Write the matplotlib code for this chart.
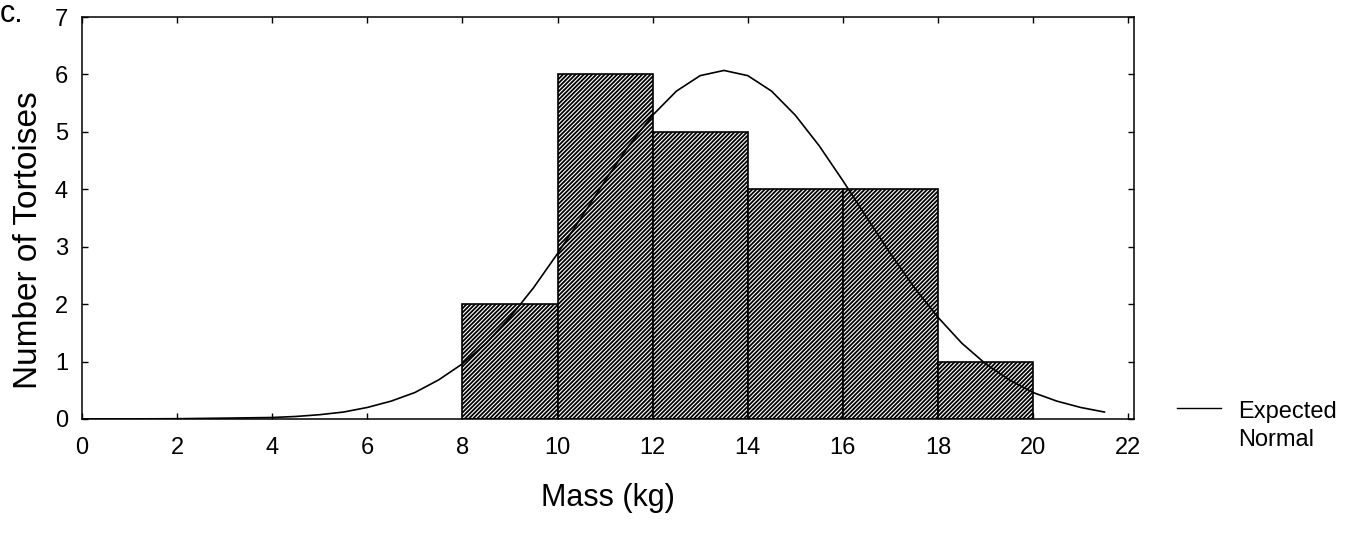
import matplotlib
matplotlib.use('Agg')
import matplotlib.pyplot as plt
from matplotlib.lines import Line2D

plt.rcParams['font.family'] = ['Liberation Sans', 'DejaVu Sans']
plt.rcParams['hatch.linewidth'] = 1.3

# histogram bins (kg) and counts
bin_left = [8, 10, 12, 14, 16, 18]
bin_width = 2
counts = [2, 6, 5, 4, 4, 1]

# expected normal curve
curve_x = [0, 1, 2, 3, 4, 4.5, 5, 5.5, 6, 6.5, 7, 7.5, 8, 8.5, 9, 9.5, 10,
           10.5, 11, 11.5, 12, 12.5, 13, 13.5, 14, 14.5, 15, 15.5, 16, 16.5,
           17, 17.5, 18, 18.5, 19, 19.5, 20, 20.5, 21, 21.5]
curve_y = [0.0001, 0.0009, 0.004, 0.014, 0.025, 0.043, 0.074, 0.12, 0.20,
           0.31, 0.46, 0.68, 0.96, 1.32, 1.77, 2.29, 2.88, 3.51, 4.15, 4.76,
           5.29, 5.71, 5.98, 6.07, 5.98, 5.71, 5.29, 4.76, 4.15, 3.51, 2.88,
           2.29, 1.77, 1.32, 0.96, 0.68, 0.46, 0.31, 0.20, 0.12]

x_ticks = list(range(0, 23, 2))
y_ticks = list(range(0, 8))

fig = plt.figure(figsize=(13.68, 5.33), dpi=100)
ax = fig.add_axes([0.0599, 0.214, 0.769, 0.754])

ax.bar(bin_left, counts, width=bin_width, align='edge', color='white',
       edgecolor='black', linewidth=1.2, hatch='////////', zorder=2)
ax.plot(curve_x, curve_y, color='black', linewidth=1.2, zorder=3)

ax.set_xlim(0, 22.12)
ax.set_ylim(0, 7)
ax.set_xticks(x_ticks)
ax.set_yticks(y_ticks)
ax.tick_params(direction='in', length=4, width=1, labelsize=17,
               top=True, right=True)
ax.tick_params(axis='x', pad=13)
ax.tick_params(axis='y', pad=10)
for s in ax.spines.values():
    s.set_linewidth(1.1)

ax.set_xlabel('Mass (kg)', fontsize=22, labelpad=17)
ax.set_ylabel('Number of Tortoises', fontsize=24)
ax.yaxis.set_label_coords(-0.036, 0.444)

fig.text(0.0, 0.959, 'c.', fontsize=22, ha='left', va='baseline')

# legend drawn by hand so the line sits beside the first text line
fig.add_artist(Line2D([1177 / 1368, 1221 / 1368], [1 - 408 / 533, 1 - 408 / 533],
                      color='black', linewidth=1.0))
fig.text(1238 / 1368, 1 - 401 / 533, 'Expected\nNormal', fontsize=17,
         ha='left', va='top', linespacing=1.35)

fig.savefig('out.png', dpi=100)
